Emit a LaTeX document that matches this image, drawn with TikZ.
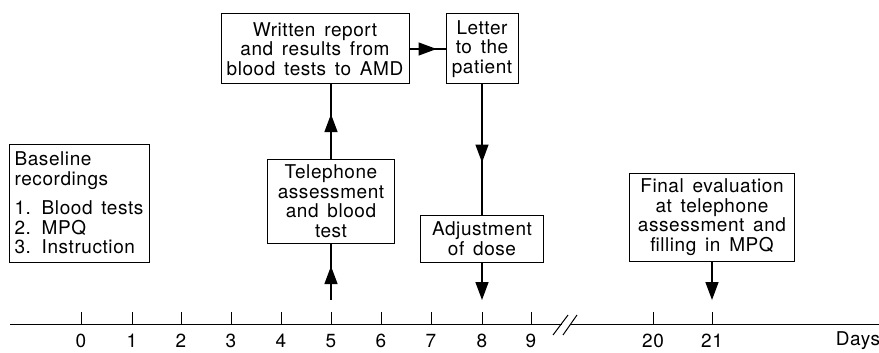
\documentclass[tikz,border=0pt]{standalone}
\usepackage{fontspec}
\usepackage{tikz}
\usetikzlibrary{arrows.meta,decorations.markings}
\newfontfamily\daysfont{TeX Gyre Heros}[LetterSpace=3,WordSpace=1.5]
\tikzset{
  box/.style={draw,line width=1pt,align=center,inner sep=0pt,
    font=\daysfont\fontsize{19}{19.5}\selectfont},
  lbl/.style={font=\daysfont\fontsize{19}{19.5}\selectfont},
  flow/.style={line width=1.5pt,postaction={decorate},
    decoration={markings,mark=at position #1 with {\arrow{Triangle[length=18pt,width=13pt]}}}},
  endflow/.style={line width=1.5pt,-{Triangle[length=18pt,width=13pt]}}
}
\begin{document}
\begin{tikzpicture}[x=1pt,y=-1pt]
          \useasboundingbox (0,0) rectangle (879,353);
          \node[box,minimum width=140,minimum height=118,align=left] (base) at (79,203)
            {Baseline\\recordings\\[10pt]1. Blood tests\\2. MPQ\\3. Instruction};
          \node[box,minimum width=188,minimum height=70] (report) at (315,49)
            {Written report\\and results from\\blood tests to AMD};
          \node[box,minimum width=72,minimum height=70] (letter) at (482,49)
            {Letter\\to the\\patient};
          \node[box,minimum width=127,minimum height=84] (phone) at (331,201)
            {Telephone\\assessment\\and blood\\test};
          \node[box,minimum width=123,minimum height=47] (dose) at (482,238.5)
            {Adjustment\\of dose};
          \node[box,minimum width=165,minimum height=88] (final) at (712,217)
            {Final evaluation\\at telephone\\assessment and\\filling in MPQ};
          \coordinate (d5) at (331,300);
          \coordinate (d8) at (482,300);
          \coordinate (d21) at (712,300);
          \draw[flow=0.6] (d5) -- (phone.south);
          \draw[flow=0.6] (phone.north) -- (phone.north |- report.south);
          \draw[flow=0.75] (report.east) -- (letter.west);
          \draw[flow=0.6] (letter.south) -- (dose.north);
          \draw[endflow] (dose.south) -- (d8);
          \draw[endflow] (final.south) -- (d21);
          \draw[line width=1pt] (10,324) -- (562,324);
          \draw[line width=1pt] (571,324) -- (879,324);
          \draw[line width=1pt] (553,335) -- (568,315);
          \draw[line width=1pt] (563,335) -- (577,315);
          \foreach \day/\x in {0/81,1/132,2/181,3/231,4/281,5/331,6/381,7/431,8/482,9/531,20/653,21/712} {
            \draw[line width=1pt] (\x,312) -- (\x,324);
            \node[lbl] (n\day) at (\x,341) {\day};
          }
          \node[lbl] (days) at (858,341) {Days};
        \end{tikzpicture}
\end{document}
